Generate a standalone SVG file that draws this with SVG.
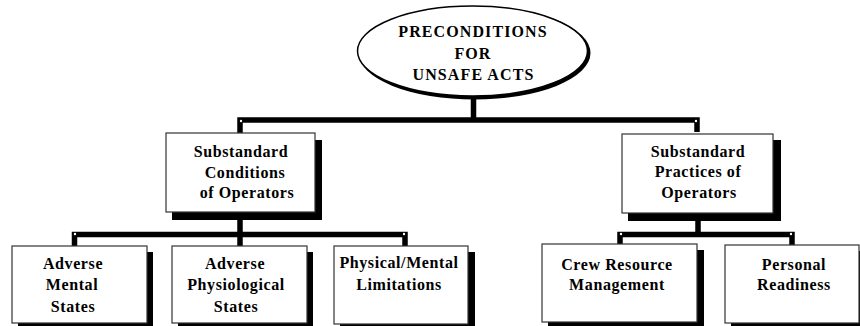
<svg xmlns="http://www.w3.org/2000/svg" width="860" height="326" viewBox="0 0 860 326">
<style>
  text { font-family: "Liberation Serif", "DejaVu Serif", serif; font-size: 16px; font-weight: bold; fill: #000; text-anchor: middle; letter-spacing: 0.6px; }
  .te { letter-spacing: 1.1px; }
  .box { fill: #fff; stroke: #333; stroke-width: 1.2; }
  .sh { fill: #000; }
  .con { fill: none; stroke: #000; stroke-width: 5.5; stroke-linejoin: miter; stroke-linecap: butt; }
  .dot { fill: #fff; }
</style>
<rect width="860" height="326" fill="#fff"/>

<g id="connectors">
  <path class="con" d="M473.5,97 V120 M240,133 V120 H697 V132"/>
  <path class="con" d="M240,212 V246 M74.5,246 V234.5 H405 V246"/>
  <path class="con" d="M698,213 V234.5 M620,244 V234.5 H792 V245"/>
  <circle class="dot" cx="241" cy="121" r="1.2"/>
  <circle class="dot" cx="696" cy="121" r="1.2"/>
  <circle class="dot" cx="75" cy="234" r="1.2"/>
  <circle class="dot" cx="404" cy="234" r="1.2"/>
  <circle class="dot" cx="621" cy="234" r="1.2"/>
  <circle class="dot" cx="791" cy="234" r="1.2"/>
</g>

<g id="root">
  <ellipse cx="474.5" cy="53" rx="116" ry="46.5" fill="#000"/>
  <ellipse cx="472.5" cy="51" rx="115" ry="45" fill="#fff" stroke="#000" stroke-width="1.5"/>
  <text class="te" x="473" y="37">PRECONDITIONS</text>
  <text class="te" x="473" y="59">FOR</text>
  <text class="te" x="473.5" y="80">UNSAFE ACTS</text>
</g>

<g id="conditions">
  <rect class="sh" x="172" y="140" width="150" height="80"/>
  <rect class="box" x="166" y="133" width="149" height="79"/>
  <text x="241" y="157">Substandard</text>
  <text x="245" y="178">Conditions</text>
  <text x="247" y="198">of Operators</text>
</g>

<g id="practices">
  <rect class="sh" x="628" y="140" width="153" height="81"/>
  <rect class="box" x="622" y="134" width="151" height="79"/>
  <text x="698" y="157">Substandard</text>
  <text x="698" y="177">Practices of</text>
  <text x="699" y="198">Operators</text>
</g>

<g id="mental">
  <rect class="sh" x="18" y="252" width="135" height="78"/>
  <rect class="box" x="12" y="246" width="135" height="77"/>
  <text x="73" y="269">Adverse</text>
  <text x="72" y="290">Mental</text>
  <text x="73" y="312">States</text>
</g>

<g id="physiological">
  <rect class="sh" x="178" y="252" width="135" height="78"/>
  <rect class="box" x="172" y="246" width="135" height="77"/>
  <text x="235" y="269">Adverse</text>
  <text x="236" y="290">Physiological</text>
  <text x="236" y="312">States</text>
</g>

<g id="limitations">
  <rect class="sh" x="340" y="252" width="135" height="78"/>
  <rect class="box" x="334" y="246" width="134" height="78"/>
  <text x="399" y="268">Physical/Mental</text>
  <text x="399" y="290">Limitations</text>
</g>

<g id="crm">
  <rect class="sh" x="548" y="250" width="156" height="80"/>
  <rect class="box" x="542" y="244" width="155" height="78"/>
  <text x="617" y="270">Crew Resource</text>
  <text x="617" y="290">Management</text>
</g>

<g id="readiness">
  <rect class="sh" x="731" y="251" width="140" height="80"/>
  <rect class="box" x="725" y="245" width="134" height="78"/>
  <text x="794" y="270">Personal</text>
  <text x="794" y="290">Readiness</text>
</g>
</svg>
